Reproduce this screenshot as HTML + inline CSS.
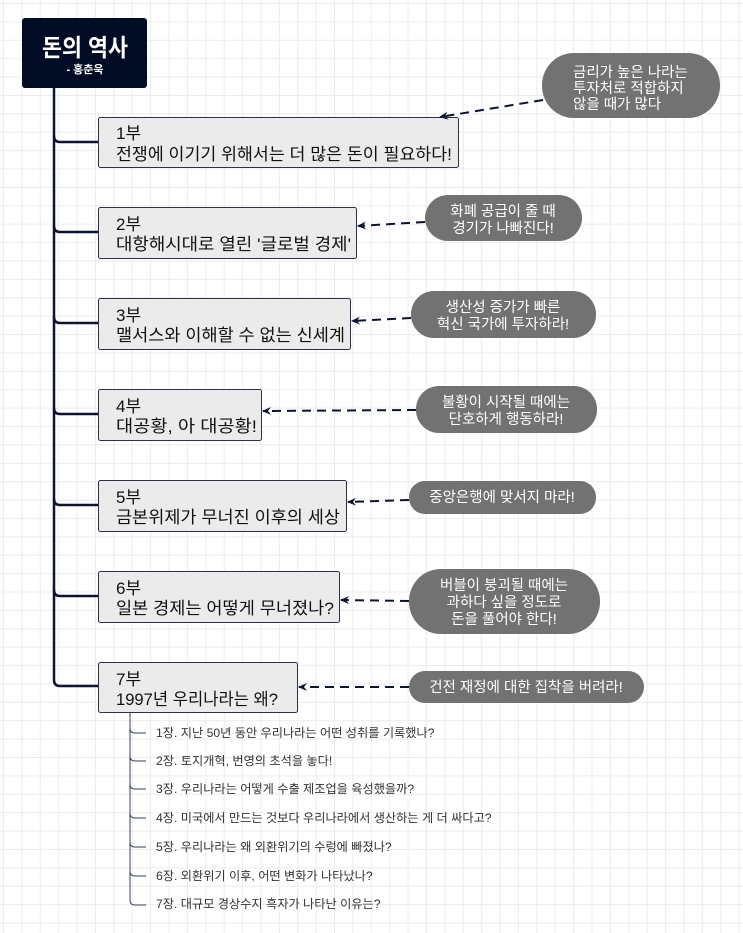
<!DOCTYPE html>
<html><head><meta charset="utf-8"><style>
html,body{margin:0;padding:0}
body{width:743px;height:933px;overflow:hidden;background:#fff;
background-image:linear-gradient(#ececec 1px,transparent 1px),linear-gradient(90deg,#ececec 1px,transparent 1px);
background-size:18.4px 18.4px;background-position:3px 3px;}
svg{position:absolute;left:0;top:0}
text{font-family:"Liberation Sans","Noto Sans CJK KR",sans-serif}
</style></head><body>
<svg width="743" height="933" viewBox="0 0 743 933">
<defs><marker id="a" markerWidth="10" markerHeight="10" refX="8" refY="5" orient="auto" markerUnits="userSpaceOnUse"><path d="M0,1 L9,5 L0,9 L3,5 Z" fill="#0b1430"/></marker></defs>
<g stroke="#0b1430" stroke-width="2.5" fill="none">
<path d="M54,88 V680 Q54,686 60,686 H98"/>
<path d="M54,136 Q54,142 60,142 H98"/><path d="M54,226 Q54,232 60,232 H98"/>
<path d="M54,317 Q54,323 60,323 H98"/><path d="M54,408 Q54,414 60,414 H98"/>
<path d="M54,499 Q54,505 60,505 H98"/><path d="M54,590 Q54,596 60,596 H98"/>
</g>
<g stroke="#3a4258" stroke-width="1" fill="none">
<path d="M130,712 V900 Q130,905 135,905 H146"/>
<path d="M130,728 Q130,733 135,733 H146"/><path d="M130,756 Q130,761 135,761 H146"/>
<path d="M130,784 Q130,789 135,789 H146"/><path d="M130,813 Q130,818 135,818 H146"/>
<path d="M130,842 Q130,847 135,847 H146"/><path d="M130,871 Q130,876 135,876 H146"/>
</g>
<rect x="22" y="18" width="125" height="70" rx="3" fill="#020d25"/>
<text x="85" y="56" font-size="24" fill="#fff" text-anchor="middle" font-weight="bold" textLength="86" lengthAdjust="spacingAndGlyphs">돈의 역사</text>
<text x="85" y="73" font-size="11" fill="#fff" text-anchor="middle" font-weight="bold">- 홍춘욱</text>
<g fill="#ebebeb" stroke="#2a3148" stroke-width="1">
<rect x="98.5" y="117.5" width="360" height="50" rx="2"/>
<rect x="98.5" y="207.5" width="258" height="51" rx="2"/>
<rect x="98.5" y="298.5" width="252" height="51" rx="2"/>
<rect x="98.5" y="389.5" width="163" height="51" rx="2"/>
<rect x="98.5" y="480.5" width="248" height="51" rx="2"/>
<rect x="98.5" y="571.5" width="241" height="51" rx="2"/>
<rect x="98.5" y="662.5" width="199" height="50" rx="2"/>
</g>
<g font-size="17" fill="#111" lengthAdjust="spacingAndGlyphs">
<text x="116" y="139">1부</text><text x="116" y="160" textLength="336" lengthAdjust="spacingAndGlyphs">전쟁에 이기기 위해서는 더 많은 돈이 필요하다!</text>
<text x="116" y="230">2부</text><text x="116" y="250" textLength="235" lengthAdjust="spacingAndGlyphs">대항해시대로 열린 '글로벌 경제'</text>
<text x="116" y="321">3부</text><text x="116" y="341" textLength="229" lengthAdjust="spacingAndGlyphs">맬서스와 이해할 수 없는 신세계</text>
<text x="116" y="412">4부</text><text x="116" y="432" textLength="141" lengthAdjust="spacingAndGlyphs">대공황, 아 대공황!</text>
<text x="116" y="503">5부</text><text x="116" y="523" textLength="224" lengthAdjust="spacingAndGlyphs">금본위제가 무너진 이후의 세상</text>
<text x="116" y="594">6부</text><text x="116" y="614" textLength="218" lengthAdjust="spacingAndGlyphs">일본 경제는 어떻게 무너졌나?</text>
<text x="116" y="685">7부</text><text x="116" y="705" textLength="162" lengthAdjust="spacingAndGlyphs">1997년 우리나라는 왜?</text>
</g>
<g stroke="#0b1430" stroke-width="2" stroke-dasharray="9,6" fill="none" marker-end="url(#a)">
<path d="M543,100 L440,117"/>
<path d="M425,222 L358,226"/>
<path d="M411,318 L352,321"/>
<path d="M416,410 L263,411"/>
<path d="M409,500 L348,502"/>
<path d="M409,601 L341,600"/>
<path d="M409,687 L299,687"/>
</g>
<g fill="#727272">
<rect x="542" y="53" width="178" height="65" rx="32"/>
<rect x="425" y="195" width="157" height="46" rx="23"/>
<rect x="411" y="291" width="185" height="47" rx="23"/>
<rect x="416" y="386" width="181" height="47" rx="23"/>
<rect x="409" y="481" width="187" height="33" rx="16"/>
<rect x="409" y="569" width="191" height="65" rx="32"/>
<rect x="409" y="671" width="235" height="32" rx="16"/>
</g>
<g font-size="14.5" fill="#fff">
<text x="573" y="77">금리가 높은 나라는</text><text x="573" y="93">투자처로 적합하지</text><text x="573" y="109">않을 때가 많다</text>
</g>
<g font-size="14.5" fill="#fff" text-anchor="middle">
<text x="503" y="216">화폐 공급이 줄 때</text><text x="503" y="233">경기가 나빠진다!</text>
<text x="503" y="312">생산성 증가가 빠른</text><text x="503" y="329">혁신 국가에 투자하라!</text>
<text x="506" y="407">불황이 시작될 때에는</text><text x="506" y="424">단호하게 행동하라!</text>
<text x="502" y="502">중앙은행에 맞서지 마라!</text>
<text x="504" y="590">버블이 붕괴될 때에는</text><text x="504" y="607">과하다 싶을 정도로</text><text x="504" y="624">돈을 풀어야 한다!</text>
<text x="526" y="692">건전 재정에 대한 집착을 버려라!</text>
</g>
<g font-size="12.2" fill="#333">
<text x="156" y="737">1장. 지난 50년 동안 우리나라는 어떤 성취를 기록했나?</text>
<text x="156" y="765">2장. 토지개혁, 번영의 초석을 놓다!</text>
<text x="156" y="793">3장. 우리나라는 어떻게 수출 제조업을 육성했을까?</text>
<text x="156" y="822">4장. 미국에서 만드는 것보다 우리나라에서 생산하는 게 더 싸다고?</text>
<text x="156" y="851">5장. 우리나라는 왜 외환위기의 수렁에 빠졌나?</text>
<text x="156" y="880">6장. 외환위기 이후, 어떤 변화가 나타났나?</text>
<text x="156" y="908">7장. 대규모 경상수지 흑자가 나타난 이유는?</text>
</g>
</svg>
</body></html>
